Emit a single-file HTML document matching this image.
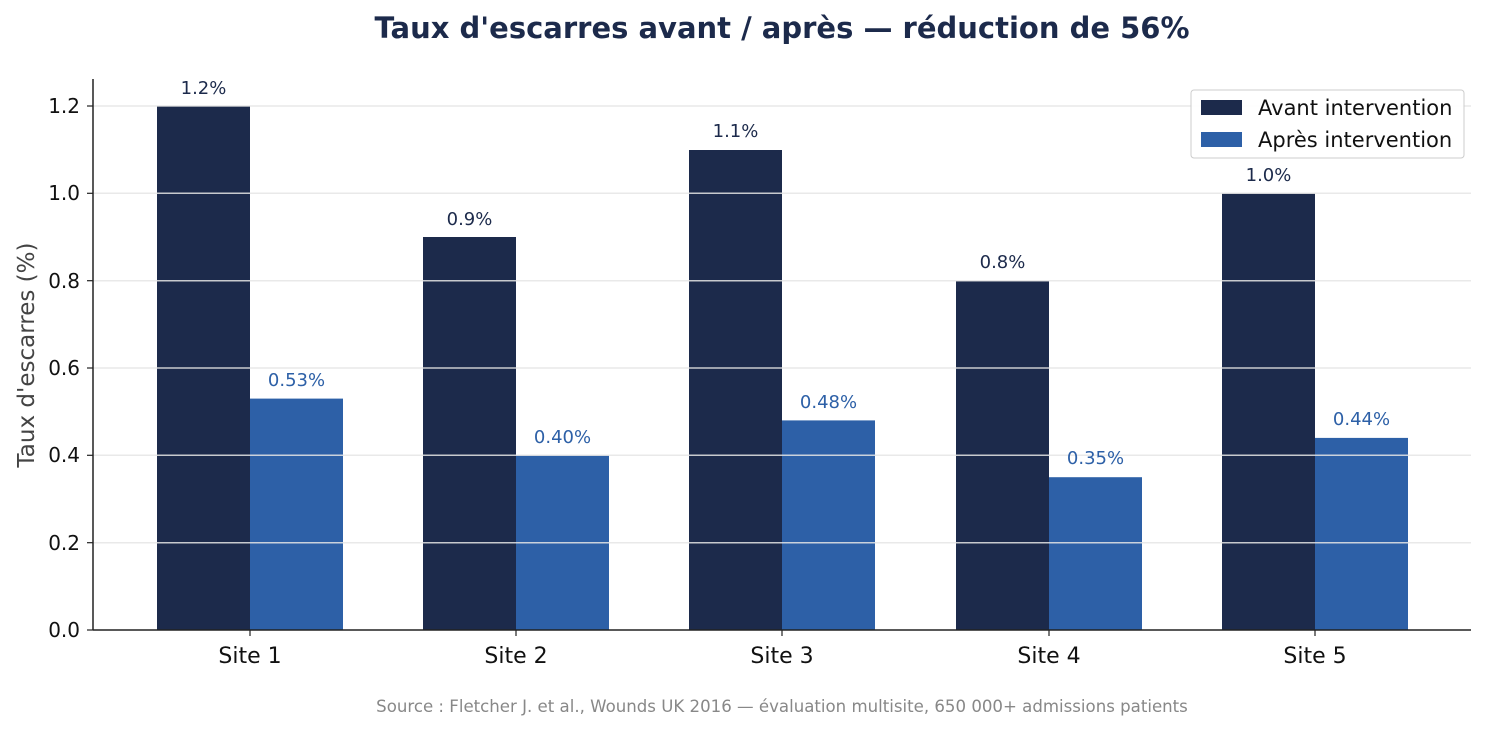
<!DOCTYPE html>
<html><head><meta charset="utf-8"><style>
html,body{margin:0;padding:0;background:#fff;}
svg{display:block;font-family:"DejaVu Sans","Liberation Sans",sans-serif;}
</style></head><body>
<svg width="1485" height="731" viewBox="0 0 1485 731" xmlns="http://www.w3.org/2000/svg">
<rect width="1485" height="731" fill="#fff"/>
<text x="782" y="38" text-anchor="middle" font-size="29" font-weight="bold" fill="#1c2a4b">Taux d'escarres avant / après — réduction de 56%</text>
<g fill="#1c2a4b">
<rect x="157" y="106" width="93" height="524"/>
<rect x="423" y="237" width="93" height="393"/>
<rect x="689" y="150" width="93" height="480"/>
<rect x="956" y="281" width="93" height="349"/>
<rect x="1222" y="193.3" width="93" height="436.7"/>
</g>
<g fill="#2d60a7">
<rect x="250" y="398.6" width="93" height="231.4"/>
<rect x="516" y="455.3" width="93" height="174.7"/>
<rect x="782" y="420.4" width="93" height="209.6"/>
<rect x="1049" y="477.2" width="93" height="152.8"/>
<rect x="1315" y="437.9" width="93" height="192.1"/>
</g>
<g stroke="#e6e6e6" stroke-width="1.5" opacity="0.85">
<line x1="93" x2="1471" y1="106" y2="106"/>
<line x1="93" x2="1471" y1="193.3" y2="193.3"/>
<line x1="93" x2="1471" y1="280.7" y2="280.7"/>
<line x1="93" x2="1471" y1="368" y2="368"/>
<line x1="93" x2="1471" y1="455.3" y2="455.3"/>
<line x1="93" x2="1471" y1="542.7" y2="542.7"/>
</g>
<line x1="93" y1="79" x2="93" y2="630" stroke="#222" stroke-width="1.5"/>
<line x1="93" y1="630" x2="1471" y2="630" stroke="#222" stroke-width="1.5"/>
<g stroke="#222" stroke-width="1.2">
<line x1="87" x2="93" y1="106" y2="106"/><line x1="87" x2="93" y1="193.3" y2="193.3"/>
<line x1="87" x2="93" y1="280.7" y2="280.7"/><line x1="87" x2="93" y1="368" y2="368"/>
<line x1="87" x2="93" y1="455.3" y2="455.3"/><line x1="87" x2="93" y1="542.7" y2="542.7"/>
<line x1="87" x2="93" y1="630" y2="630"/>
<line x1="250" x2="250" y1="630" y2="636"/><line x1="516" x2="516" y1="630" y2="636"/>
<line x1="782" x2="782" y1="630" y2="636"/><line x1="1049" x2="1049" y1="630" y2="636"/>
<line x1="1315" x2="1315" y1="630" y2="636"/>
</g>
<g font-size="20" fill="#111" text-anchor="end">
<text x="80" y="113">1.2</text><text x="80" y="200">1.0</text><text x="80" y="288">0.8</text>
<text x="80" y="375">0.6</text><text x="80" y="462">0.4</text><text x="80" y="550">0.2</text>
<text x="80" y="637">0.0</text>
</g>
<g font-size="22" fill="#111" text-anchor="middle">
<text x="250" y="663">Site 1</text><text x="516" y="663">Site 2</text><text x="782" y="663">Site 3</text>
<text x="1049" y="663">Site 4</text><text x="1315" y="663">Site 5</text>
</g>
<text transform="translate(34,355) rotate(-90)" text-anchor="middle" font-size="23" fill="#444">Taux d'escarres (%)</text>
<g font-size="18" fill="#1c2a4b" text-anchor="middle">
<text x="203.5" y="94">1.2%</text><text x="469.5" y="225">0.9%</text><text x="735.5" y="137">1.1%</text>
<text x="1002.5" y="268">0.8%</text><text x="1268.5" y="181">1.0%</text>
</g>
<g font-size="18" fill="#2d60a7" text-anchor="middle">
<text x="296.5" y="386">0.53%</text><text x="562.5" y="443">0.40%</text><text x="828.5" y="408">0.48%</text>
<text x="1095.5" y="464">0.35%</text><text x="1361.5" y="425">0.44%</text>
</g>
<rect x="1191" y="90" width="273" height="68" rx="3" fill="#fff" fill-opacity="0.9" stroke="#ccc"/>
<rect x="1201" y="100" width="41" height="15" fill="#1c2a4b"/>
<rect x="1201" y="132" width="41" height="15" fill="#2d60a7"/>
<text x="1258" y="115" font-size="21" fill="#111">Avant intervention</text>
<text x="1258" y="147" font-size="21" fill="#111">Après intervention</text>
<text x="782" y="712" text-anchor="middle" font-size="16.6" fill="#888">Source : Fletcher J. et al., Wounds UK 2016 — évaluation multisite, 650 000+ admissions patients</text>
</svg>
</body></html>
